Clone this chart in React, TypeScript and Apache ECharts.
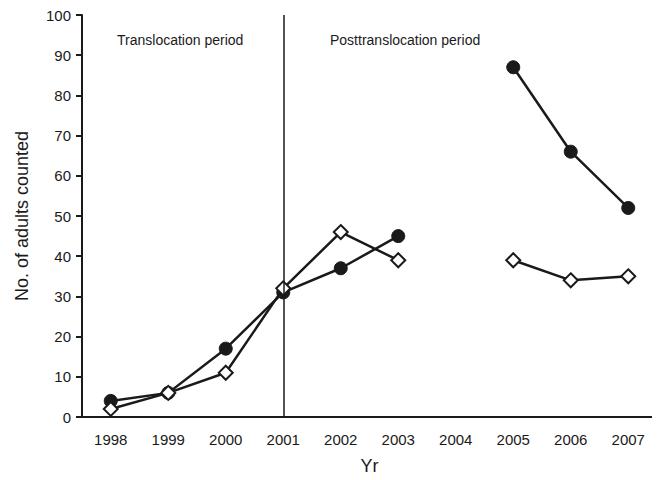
import React, { useEffect, useRef } from "react";
import * as echarts from "echarts";

const years = ["1998", "1999", "2000", "2001", "2002", "2003", "2004", "2005", "2006", "2007"];
const filledCounts: (number | null)[] = [4, 6, 17, 31, 37, 45, null, 87, 66, 52];
const openCounts: (number | null)[] = [2, 6, 11, 32, 46, 39, null, 39, 34, 35];
const yTicks = { min: 0, max: 100, interval: 10 };
const periodLabels = ["Translocation period", "Posttranslocation period"];
const dividerYear = "2001";

const FONT = "'Liberation Sans', Arial, sans-serif";
const INK = "#1a1a1a";

export default function App() {
  const ref = useRef<HTMLDivElement>(null);
  useEffect(() => {
    if (!ref.current) return;
    const chart = echarts.init(ref.current, undefined, { renderer: "svg" });
    chart.setOption({
      animation: false,
      backgroundColor: "#ffffff",
      textStyle: { fontFamily: FONT, color: INK },
      grid: { left: 82, right: 3, top: 15, bottom: 63, containLabel: false, outerBoundsMode: "none" },
      xAxis: {
        type: "category",
        data: years,
        boundaryGap: true,
        name: "Yr",
        nameLocation: "middle",
        nameGap: 40,
        nameTextStyle: { fontSize: 18, color: INK, fontFamily: FONT, verticalAlign: "top" },
        axisLine: { lineStyle: { color: INK, width: 2 } },
        axisTick: { alignWithLabel: true, length: 6, lineStyle: { color: INK, width: 2 } },
        axisLabel: { fontSize: 15, color: INK, margin: 15, fontFamily: FONT },
        splitLine: { show: false },
      },
      yAxis: {
        type: "value",
        min: yTicks.min,
        max: yTicks.max,
        interval: yTicks.interval,
        name: "No. of adults counted",
        nameLocation: "middle",
        nameGap: 51,
        nameTextStyle: { fontSize: 18, color: INK, fontFamily: FONT },
        axisLine: { show: true, lineStyle: { color: INK, width: 2 } },
        axisTick: { show: true, length: 6, lineStyle: { color: INK, width: 2 } },
        axisLabel: { fontSize: 15, color: INK, margin: 11, fontFamily: FONT },
        splitLine: { show: false },
      },
      series: [
        {
          name: "filled",
          type: "line",
          data: filledCounts,
          connectNulls: false,
          symbol: "circle",
          symbolSize: 13,
          lineStyle: { color: INK, width: 2.5 },
          itemStyle: { color: INK, borderColor: INK },
          z: 3,
          markLine: {
            silent: true,
            symbol: "none",
            label: { show: false },
            lineStyle: { color: INK, width: 1.5, type: "solid" },
            data: [{ xAxis: dividerYear }],
          },
        },
        {
          name: "open",
          type: "line",
          data: openCounts,
          connectNulls: false,
          symbol: "diamond",
          symbolSize: 14,
          lineStyle: { color: INK, width: 2.5 },
          itemStyle: { color: "#ffffff", borderColor: INK, borderWidth: 2 },
          z: 4,
        },
      ],
      graphic: [
        {
          type: "text",
          left: 117,
          top: 33,
          style: { text: periodLabels[0], fontSize: 14, fill: INK, fontFamily: FONT },
        },
        {
          type: "text",
          left: 330,
          top: 33,
          style: { text: periodLabels[1], fontSize: 14, fill: INK, fontFamily: FONT },
        },
      ],
    });
    return () => chart.dispose();
  }, []);
  return <div ref={ref} style={{ width: 660, height: 480, margin: -8 }} />;
}
